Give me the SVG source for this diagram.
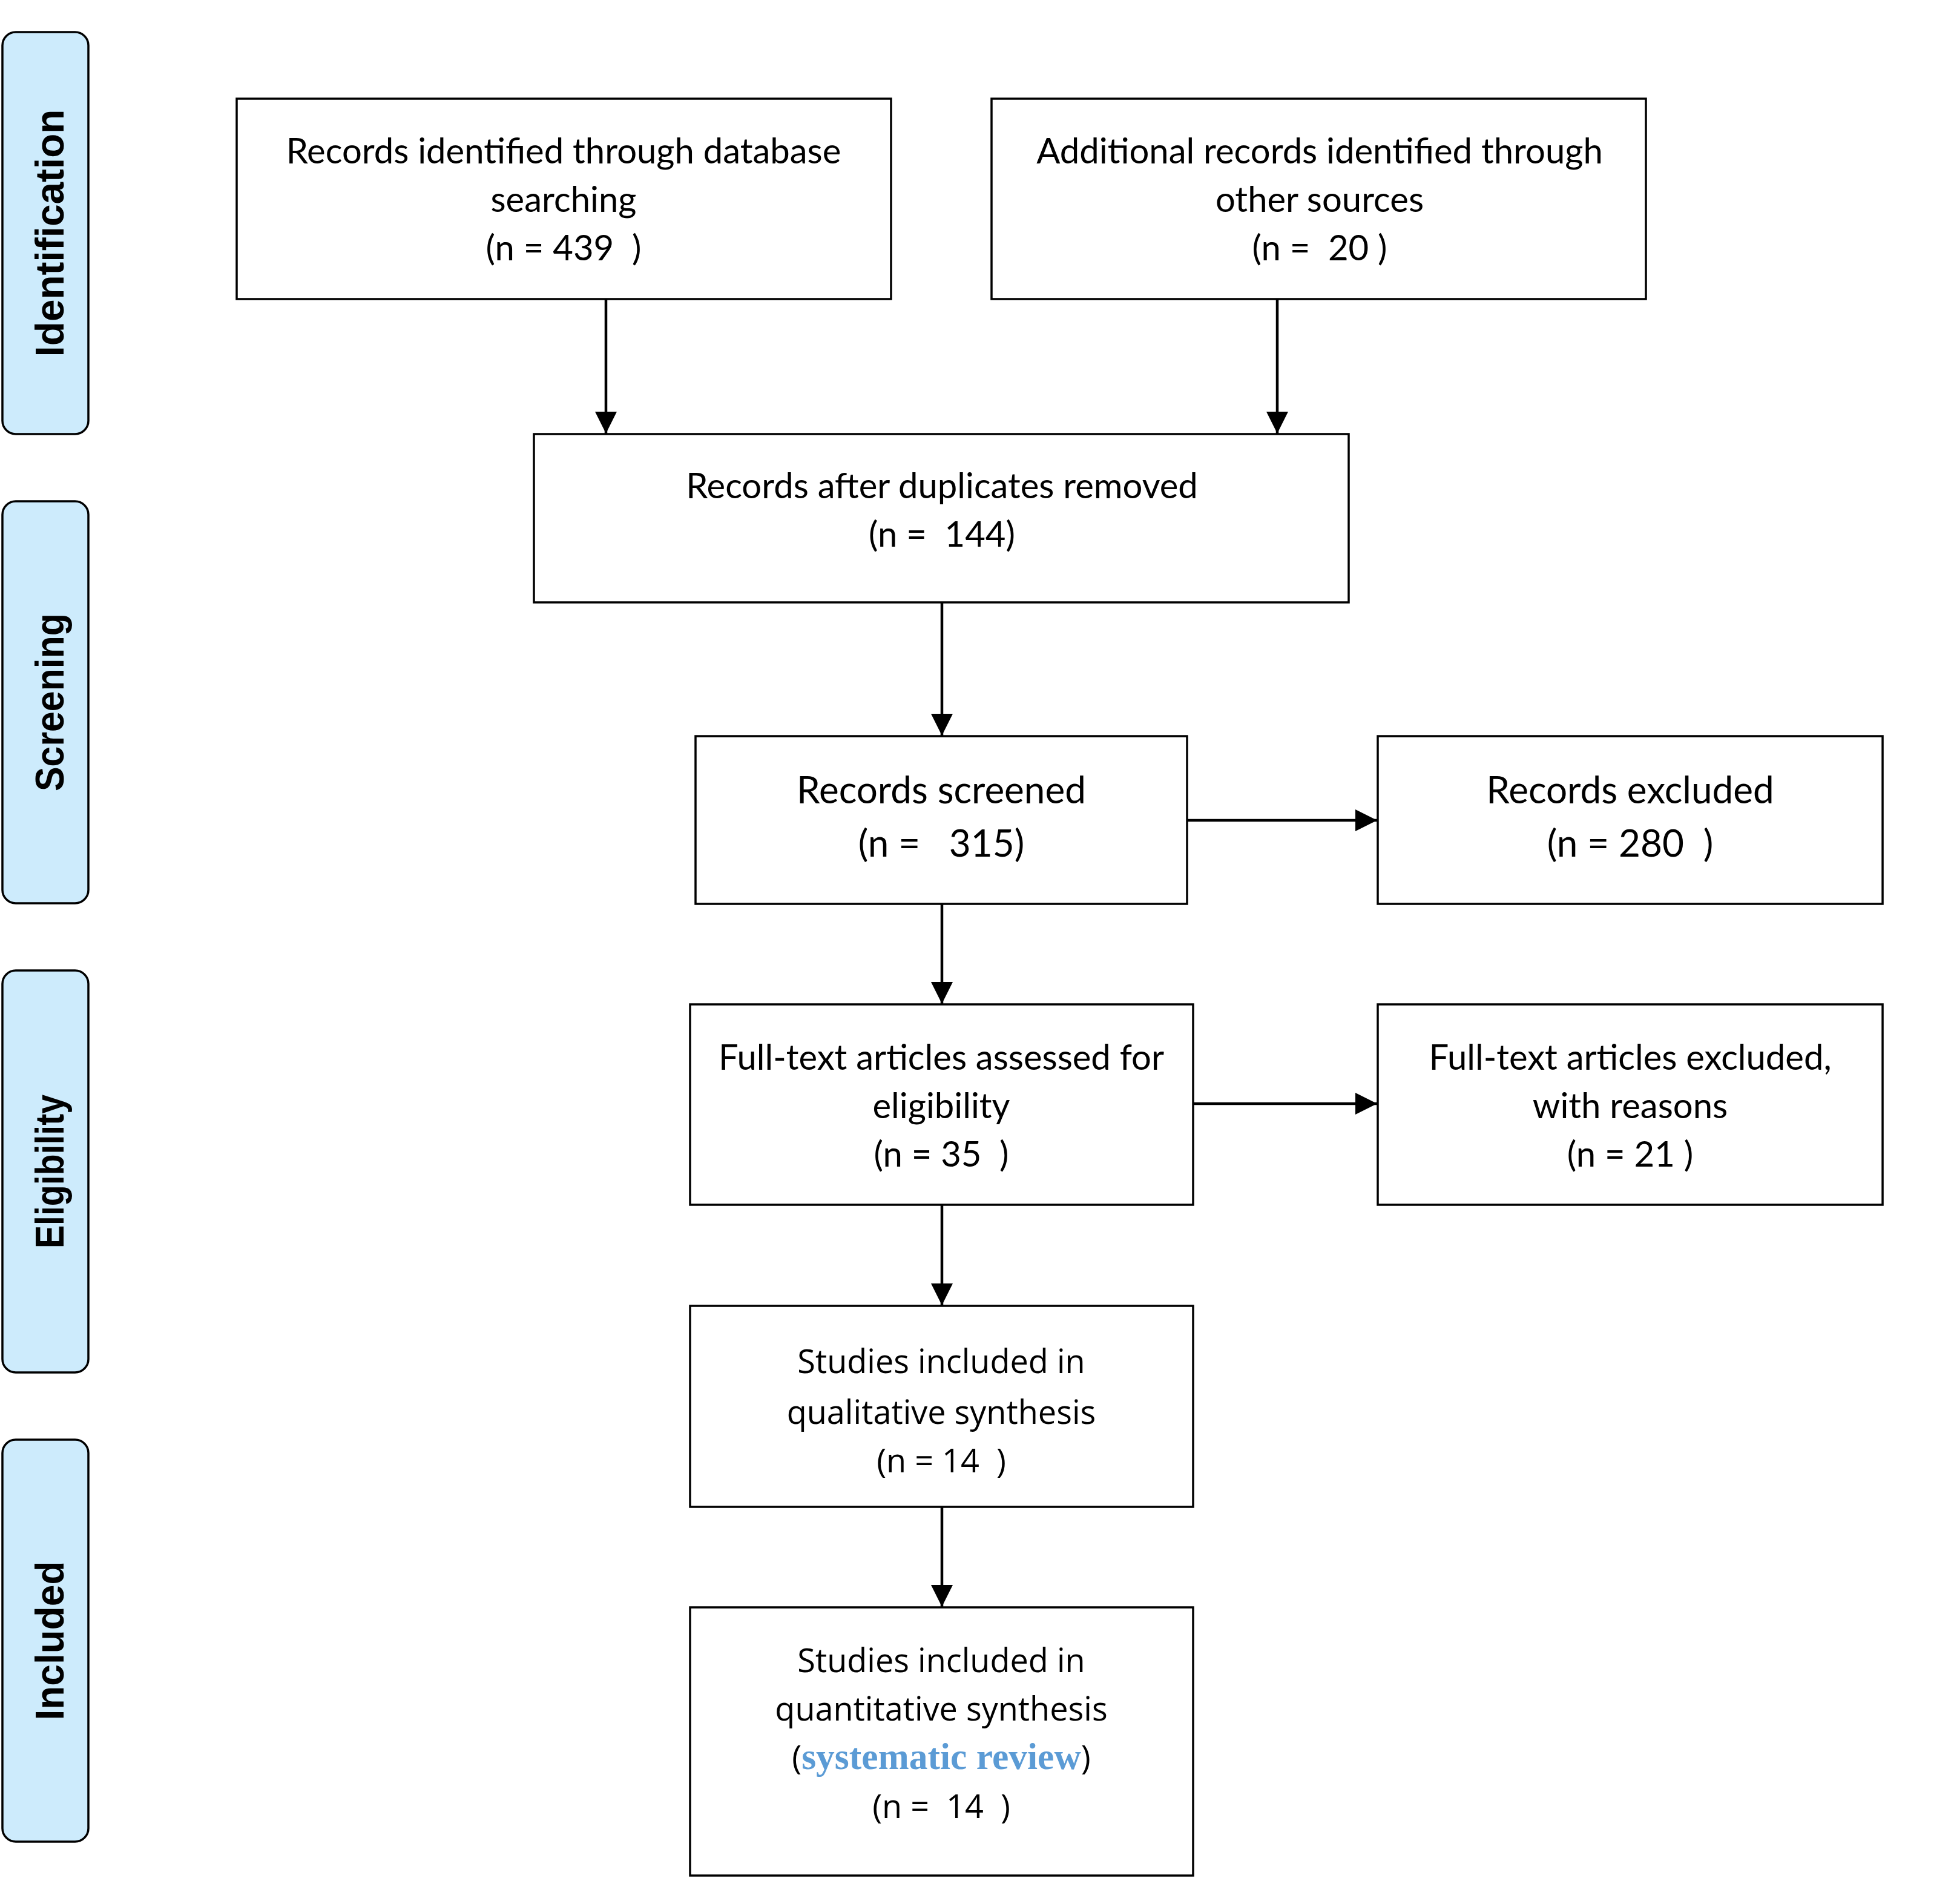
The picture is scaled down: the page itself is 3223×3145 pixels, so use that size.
<svg xmlns="http://www.w3.org/2000/svg" width="3223" height="3145" viewBox="0 0 3223 3145">
<defs>
<style>
.box{fill:#fff;stroke:#000;stroke-width:3.5}
.side{fill:#cdebfc;stroke:#000;stroke-width:3.5}
.lbl{font-family:"Liberation Sans",Arial,sans-serif;font-weight:bold;font-size:66px;fill:#000}
.t{font-family:Lato,"Open Sans",sans-serif;font-size:58px;fill:#000}
.tl{font-family:Lato,"Open Sans",sans-serif;font-size:62px;fill:#000}
.s{font-family:"Open Sans","Noto Sans",sans-serif;font-size:54px;fill:#000}
.sr{font-family:"Liberation Serif","Times New Roman",serif;font-weight:bold;font-size:61.5px;fill:#5b9bd5}
.c{stroke:#000;stroke-width:4.5;fill:none}
</style>
<marker id="ah" markerUnits="userSpaceOnUse" markerWidth="38" markerHeight="36" refX="36" refY="18" orient="auto">
<path d="M0,0 L36,18 L0,36 Z" fill="#000"/>
</marker>
</defs>
<rect width="3223" height="3145" fill="#fff"/>

<g id="phase-identification">
<rect class="side" x="4" y="53" width="142" height="664" rx="22"/>
<text class="lbl" transform="translate(105,385) rotate(-90)" text-anchor="middle" textLength="409" lengthAdjust="spacingAndGlyphs">Identification</text>
</g>
<g id="phase-screening">
<rect class="side" x="4" y="828" width="142" height="664" rx="22"/>
<text class="lbl" transform="translate(105,1160) rotate(-90)" text-anchor="middle" textLength="294" lengthAdjust="spacingAndGlyphs">Screening</text>
</g>
<g id="phase-eligibility">
<rect class="side" x="4" y="1603" width="142" height="664" rx="22"/>
<text class="lbl" transform="translate(105,1935) rotate(-90)" text-anchor="middle" textLength="254" lengthAdjust="spacingAndGlyphs">Eligibility</text>
</g>
<g id="phase-included">
<rect class="side" x="4" y="2378" width="142" height="664" rx="22"/>
<text class="lbl" transform="translate(105,2710) rotate(-90)" text-anchor="middle" textLength="263" lengthAdjust="spacingAndGlyphs">Included</text>
</g>

<g id="db-records">
<rect class="box" x="391" y="163" width="1081" height="331"/>
<text class="t" x="931" y="270" text-anchor="middle" xml:space="preserve">Records identified through database</text>
<text class="t" x="931" y="350" text-anchor="middle" xml:space="preserve">searching</text>
<text class="t" x="931" y="430" text-anchor="middle" xml:space="preserve">(n = 439  )</text>
</g>
<g id="other-records">
<rect class="box" x="1638" y="163" width="1081" height="331"/>
<text class="t" x="2180" y="270" text-anchor="middle" xml:space="preserve">Additional records identified through</text>
<text class="t" x="2180" y="350" text-anchor="middle" xml:space="preserve">other sources</text>
<text class="t" x="2180" y="430" text-anchor="middle" xml:space="preserve">(n =  20 )</text>
</g>
<g id="dedup">
<rect class="box" x="882" y="717" width="1346" height="278"/>
<text class="t" x="1556" y="823" text-anchor="middle" xml:space="preserve">Records after duplicates removed</text>
<text class="t" x="1556" y="903" text-anchor="middle" xml:space="preserve">(n =  144)</text>
</g>
<g id="screened">
<rect class="box" x="1149" y="1216" width="812" height="277"/>
<text class="tl" x="1555" y="1327" text-anchor="middle" xml:space="preserve">Records screened</text>
<text class="tl" x="1555" y="1415" text-anchor="middle" xml:space="preserve">(n =   315)</text>
</g>
<g id="excluded">
<rect class="box" x="2276" y="1216" width="834" height="277"/>
<text class="tl" x="2693" y="1327" text-anchor="middle" xml:space="preserve">Records excluded</text>
<text class="tl" x="2693" y="1415" text-anchor="middle" xml:space="preserve">(n = 280  )</text>
</g>
<g id="fulltext">
<rect class="box" x="1140" y="1659" width="831" height="331"/>
<text class="t" x="1555" y="1767" text-anchor="middle" xml:space="preserve">Full-text articles assessed for</text>
<text class="t" x="1555" y="1847" text-anchor="middle" xml:space="preserve">eligibility</text>
<text class="t" x="1555" y="1927" text-anchor="middle" xml:space="preserve">(n = 35  )</text>
</g>
<g id="fulltext-excluded">
<rect class="box" x="2276" y="1659" width="834" height="331"/>
<text class="t" x="2693" y="1767" text-anchor="middle" xml:space="preserve">Full-text articles excluded,</text>
<text class="t" x="2693" y="1847" text-anchor="middle" xml:space="preserve">with reasons</text>
<text class="t" x="2693" y="1927" text-anchor="middle" xml:space="preserve">(n = 21 )</text>
</g>
<g id="qualitative">
<rect class="box" x="1140" y="2157" width="831" height="332"/>
<text class="s" x="1555" y="2268" text-anchor="middle" xml:space="preserve">Studies included in</text>
<text class="s" x="1555" y="2352" text-anchor="middle" xml:space="preserve">qualitative synthesis</text>
<text class="s" x="1555" y="2432" text-anchor="middle" xml:space="preserve">(n = 14  )</text>
</g>
<g id="quantitative">
<rect class="box" x="1140" y="2655" width="831" height="443"/>
<text class="s" x="1555" y="2762" text-anchor="middle" xml:space="preserve">Studies included in</text>
<text class="s" x="1555" y="2842" text-anchor="middle" xml:space="preserve">quantitative synthesis</text>
<text class="s" x="1555" y="2922" text-anchor="middle" xml:space="preserve">(<tspan class="sr">systematic review</tspan>)</text>
<text class="s" x="1555" y="3003" text-anchor="middle" xml:space="preserve">(n =  14  )</text>
</g>

<g id="connectors">
<line class="c" x1="1001" y1="494" x2="1001" y2="716" marker-end="url(#ah)"/>
<line class="c" x1="2110" y1="494" x2="2110" y2="716" marker-end="url(#ah)"/>
<line class="c" x1="1556" y1="995" x2="1556" y2="1215" marker-end="url(#ah)"/>
<line class="c" x1="1556" y1="1493" x2="1556" y2="1658" marker-end="url(#ah)"/>
<line class="c" x1="1961" y1="1355" x2="2275" y2="1355" marker-end="url(#ah)"/>
<line class="c" x1="1971" y1="1823" x2="2275" y2="1823" marker-end="url(#ah)"/>
<line class="c" x1="1556" y1="1990" x2="1556" y2="2156" marker-end="url(#ah)"/>
<line class="c" x1="1556" y1="2489" x2="1556" y2="2654" marker-end="url(#ah)"/>
</g>
</svg>
